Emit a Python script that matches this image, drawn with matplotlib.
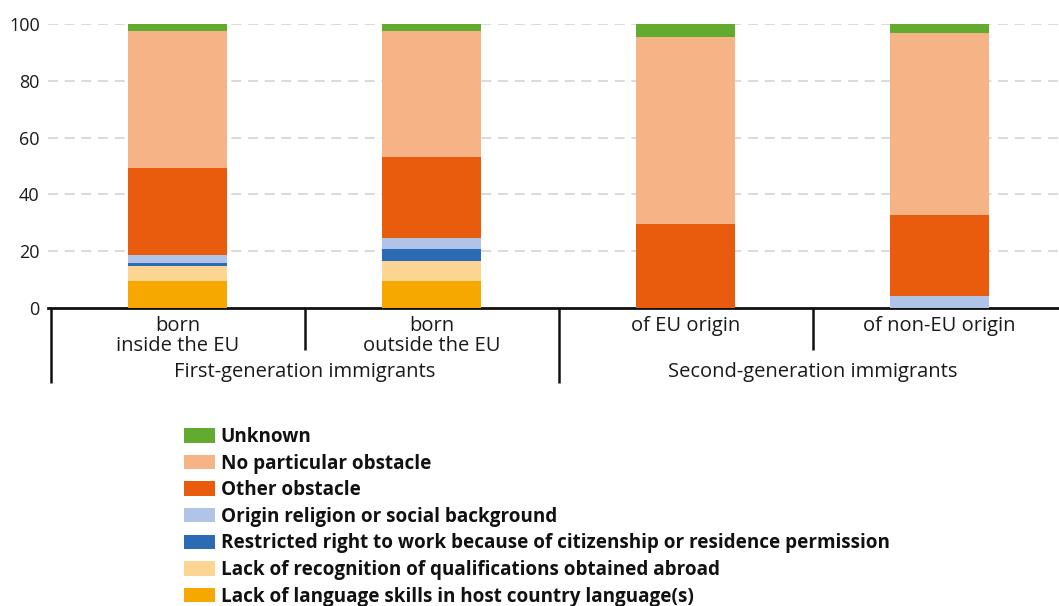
import matplotlib.pyplot as plt
import numpy as np
from matplotlib.patches import Patch
from matplotlib.transforms import blended_transform_factory

plt.rcParams["font.family"] = ["Open Sans", "DejaVu Sans"]

categories = ["born\ninside the EU", "born\noutside the EU", "of EU origin", "of non-EU origin"]
groups = ["First-generation immigrants", "Second-generation immigrants"]

# stacked from bottom to top
series = [
    "Lack of language skills in host country language(s)",
    "Lack of recognition of qualifications obtained abroad",
    "Restricted right to work because of citizenship or residence permission",
    "Origin religion or social background",
    "Other obstacle",
    "No particular obstacle",
    "Unknown",
]
language = [9.5, 9.5, 0.0, 0.0]
recognition = [5.2, 7.2, 0.0, 0.0]
restricted = [1.1, 3.9, 0.0, 0.0]
religion = [2.9, 3.9, 0.0, 4.4]
other = [30.5, 28.8, 29.7, 28.4]
no_obstacle = [48.3, 44.2, 65.8, 64.0]
unknown = [2.5, 2.5, 4.5, 3.2]

colors = ["#f6a800", "#fcd592", "#2a6bb3", "#afc4e6", "#e95c0e", "#f5b386", "#62ab2f"]
values = [language, recognition, restricted, religion, other, no_obstacle, unknown]

fig = plt.figure(figsize=(10.59, 6.06), dpi=100)
ax = fig.add_axes([48 / 1059, 298 / 606, 1011 / 1059, 284 / 606])

x = np.arange(len(categories))
bottom = np.zeros(len(categories))
for vals, col in zip(values, colors):
    ax.bar(x, vals, bottom=bottom, width=0.39, color=col, linewidth=0, zorder=3)
    bottom += np.array(vals)

ax.set_xlim(-0.51, 3.47)
ax.set_ylim(0, 100)
ax.set_yticks([0, 20, 40, 60, 80, 100])
ax.tick_params(axis="y", length=0, labelsize=13, pad=6, colors="#1a1a1a")
ax.set_xticks([])
for y in [20, 40, 60, 80, 100]:
    ax.axhline(y, color="#d4d4d4", linewidth=1.2, linestyle=(0, (6, 4)), zorder=1)
for side in ["left", "right", "top"]:
    ax.spines[side].set_visible(False)
ax.spines["bottom"].set_linewidth(2)
ax.spines["bottom"].set_color("#111111")

trans = blended_transform_factory(ax.transData, ax.transAxes)
# category separators
for xs, depth in [(-0.5, -0.264), (0.5, -0.148), (1.5, -0.264), (2.5, -0.148)]:
    ax.plot([xs, xs], [0, depth], transform=trans, color="#111111", linewidth=1.8,
            clip_on=False, solid_capstyle="butt")

for xi, lab in zip(x, categories):
    ax.text(xi, -0.027, lab, transform=trans, ha="center", va="top", fontsize=14.5,
            linespacing=1.02, color="#1a1a1a")
for gi, g in enumerate(groups):
    ax.text(2 * gi + 0.5, -0.19, g, transform=trans, ha="center", va="top",
            fontsize=14.5, color="#1a1a1a")

handles = [Patch(facecolor=c, edgecolor="none", label=s) for s, c in zip(series, colors)]
leg = fig.legend(handles[::-1], series[::-1], loc="upper left",
                 bbox_to_anchor=(184 / 1059, (606 - 427) / 606), frameon=False,
                 prop={"weight": "bold", "size": 13.6}, handlelength=1.64,
                 handleheight=0.8, handletextpad=0.3, labelspacing=0.35,
                 borderpad=0, borderaxespad=0)
for t in leg.get_texts():
    t.set_color("#111111")

fig.savefig("out.png", dpi=100)
